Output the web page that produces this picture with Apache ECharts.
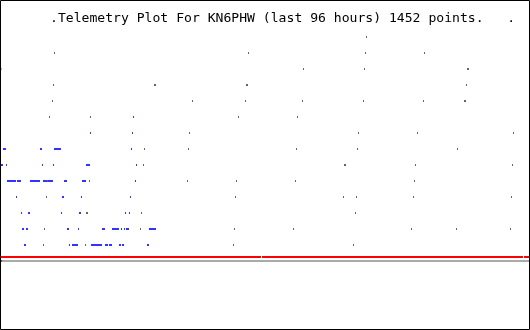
<!DOCTYPE html>
<html><head><meta charset="utf-8">
<script src="https://cdn.jsdelivr.net/npm/echarts@6/dist/echarts.min.js"></script>
<style>html,body{margin:0;padding:0;background:#fff}#c{width:530px;height:330px}</style>
</head><body><div id="c"></div>
<script>
const titleText = '.Telemetry Plot For KN6PHW (last 96 hours) 1452 points.   .';
// x = time position across the plot, level = telemetry row (1 = bottom row)
// blue packets, per level (index = level)
const blueByLevel = [
  [],
  [24,25,69,72,73,74,75,76,77,91,92,93,94,95,96,97,98,99,100,101,105,106,107,109,110,111,119,120,122,123,147,148],
  [22,23,26,27,67,68,78,102,103,104,112,113,114,115,116,117,118,121,124,126,127,128,149,150,151,152,153,154,155],
  [21,28,29,61,79,80,125,129],
  [16,62,63,81,130],
  [7,8,9,10,11,12,13,14,15,17,18,19,20,30,31,32,33,34,35,36,37,38,39,43,44,45,46,48,49,50,51,52,64,65,66,82,83,84,85,135],
  [1,2,6,42,53,86,87,88,89,136],
  [3,4,5,40,41,54,55,56,57,58,59,60,131],
  [90,132],
  [133]
];
// gray packets, per level
const grayByLevel = [
  [1],
  [43,85,233,353],
  [44,140,234,293,411,456,510],
  [86,87,141,355],
  [46,235,343,356,413,511],
  [47,89,187,236,295,414],
  [143,344,345,415,512],
  [144,188,296,357,457],
  [189,358,417,513],
  [49,90,238,297],
  [52,192,245,302,363,423,464,465],
  [53,154,155,246,247,466],
  [303,364,467,468],
  [54,248,365,424],
  [366]
];
const faintPoints = [[1,12]];
// red threshold line at level 0.25, drawn as segments
const thresholdLevel = 0.25;
const thresholdSegments = [[0.5,260.5],[261.5,522.5],[523.5,528.5]];

function toPoints(byLevel){
  const out = [];
  byLevel.forEach((xs, lvl) => xs.forEach(x => out.push([x, lvl])));
  return out;
}
const redData = [];
thresholdSegments.forEach((s, i) => {
  if (i > 0) redData.push([s[0] - 0.5, '-']);
  redData.push([s[0], thresholdLevel], [s[1], thresholdLevel]);
});

const chart = echarts.init(document.getElementById('c'), null, {renderer: 'canvas'});
chart.setOption({
  animation: false,
  backgroundColor: '#fff',
  title: {
    text: titleText, left: 50, top: 12, padding: 0,
    textStyle: {fontFamily: 'DejaVu Sans Mono', fontSize: 13.1, fontWeight: 'normal', color: '#000'}
  },
  grid: {left: 0, right: 0, top: 21, bottom: 69},
  xAxis: {
    type: 'value', min: -0.5, max: 529.5,
    axisLine: {show: true, lineStyle: {color: '#aaaaaa', width: 2}},
    axisTick: {show: false}, axisLabel: {show: false}, splitLine: {show: false}
  },
  yAxis: {
    type: 'value', min: 0, max: 15,
    axisLine: {show: false}, axisTick: {show: false}, axisLabel: {show: false}, splitLine: {show: false}
  },
  graphic: [{
    type: 'rect', z: 100,
    shape: {x: 0.5, y: 0.5, width: 529, height: 329},
    style: {fill: null, stroke: '#000', lineWidth: 1}
  }],
  series: [
    {
      type: 'line', data: redData, symbol: 'none', connectNulls: false,
      lineStyle: {color: '#ff0000', width: 2, cap: 'butt'}, silent: true
    },
    {
      type: 'scatter', data: toPoints(blueByLevel), symbol: 'rect', symbolSize: [1, 2],
      itemStyle: {color: '#0000ff'}, silent: true
    },
    {
      type: 'scatter', data: toPoints(grayByLevel), symbol: 'rect', symbolSize: [1, 2],
      itemStyle: {color: '#404040'}, silent: true
    },
    {
      type: 'scatter', data: faintPoints, symbol: 'rect', symbolSize: [1, 2],
      itemStyle: {color: '#999999'}, silent: true
    }
  ]
});
</script>
</body></html>
